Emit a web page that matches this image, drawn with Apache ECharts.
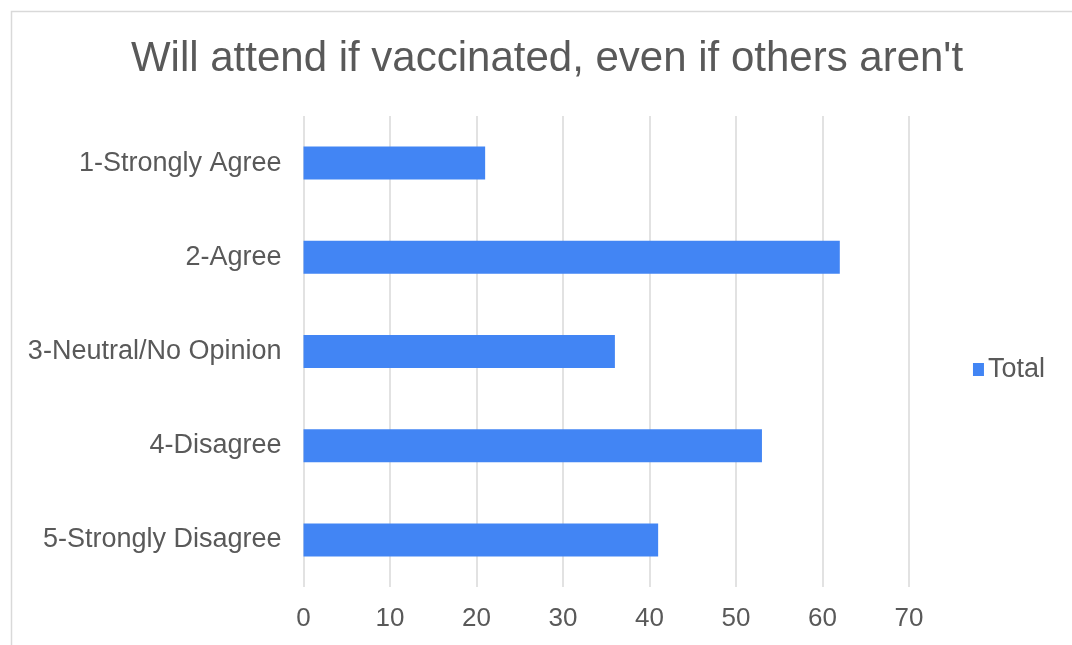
<!DOCTYPE html>
<html>
<head>
<meta charset="utf-8">
<script src="https://cdn.jsdelivr.net/npm/echarts@6/dist/echarts.min.js"></script>
<style>html,body{margin:0;padding:0;background:#fff;}#c{width:1072px;height:645px;}</style>
</head>
<body>
<div id="c"></div>
<script>
const titleText = "Will attend if vaccinated, even if others aren't";
const categories = ["1-Strongly Agree", "2-Agree", "3-Neutral/No Opinion", "4-Disagree", "5-Strongly Disagree"];
const totalValues = [21, 62, 36, 53, 41];
const seriesName = "Total";
const xMin = 0, xMax = 70, xInterval = 10;

const chart = echarts.init(document.getElementById('c'), null, {renderer: 'canvas'});
const font = '"Liberation Sans", Arial, sans-serif';
chart.setOption({
  backgroundColor: '#fff',
  animation: false,
  graphic: [{
    type: 'rect', left: 9, top: 9, z: -1,
    shape: {width: 1100, height: 700},
    style: {fill: 'none', stroke: '#d9d9d9', lineWidth: 1.5}
  }],
  title: {
    text: titleText, left: 542, textAlign: 'center', top: 33,
    textStyle: {fontFamily: font, fontSize: 42, fontWeight: 'normal', color: '#595959'}
  },
  legend: {
    data: [seriesName], right: 22, top: 351, orient: 'vertical',
    icon: 'rect', itemWidth: 11, itemHeight: 13, itemGap: 8,
    textStyle: {fontFamily: font, fontSize: 27, color: '#595959', padding: [0, 0, 0, -1]}
  },
  grid: {left: 303.5, right: 163, top: 116, bottom: 58, containLabel: false},
  xAxis: {
    type: 'value', min: xMin, max: xMax, interval: xInterval,
    axisLine: {show: false}, axisTick: {show: false},
    axisLabel: {fontFamily: font, fontSize: 26, color: '#595959', margin: 19},
    splitLine: {lineStyle: {color: '#d9d9d9', width: 1.5}}
  },
  yAxis: {
    type: 'category', data: categories, inverse: true,
    axisLine: {show: false}, axisTick: {show: false},
    axisLabel: {fontFamily: font, fontSize: 27, color: '#595959', margin: 22}
  },
  series: [{
    name: seriesName, type: 'bar', data: totalValues, barWidth: '35%',
    itemStyle: {color: '#4285f4'}
  }]
});
</script>
</body>
</html>
